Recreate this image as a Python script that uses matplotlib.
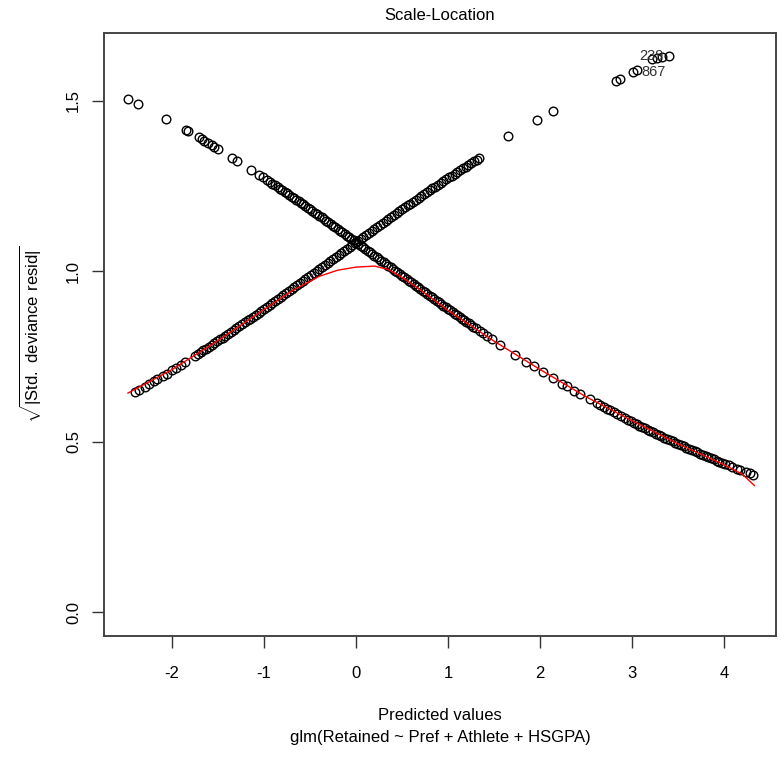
import matplotlib
matplotlib.use('Agg')
import matplotlib.pyplot as plt

plt.rcParams['font.family'] = ['Liberation Sans', 'DejaVu Sans']
plt.rcParams['mathtext.fontset'] = 'custom'
plt.rcParams['mathtext.rm'] = 'Liberation Sans'

# branch of cases with Retained = 1 (falling curve)
fitA = [-2.48, -2.37, -2.07, -1.85, -1.83, -1.71, -1.68, -1.65, -1.61, -1.57,
        -1.54, -1.50, -1.35, -1.29, -1.14, -1.05, -1.01, -0.97, -0.94, -0.91,
        -0.88, -0.85,
        -0.825, -0.800, -0.775, -0.750, -0.725, -0.700, -0.675, -0.650, -0.625, -0.600,
        -0.575, -0.550, -0.525, -0.500, -0.475, -0.450, -0.425, -0.400, -0.375, -0.350,
        -0.325, -0.300, -0.275, -0.250, -0.225, -0.200, -0.175, -0.150, -0.125, -0.100,
        -0.075, -0.050, -0.025, 0.000, 0.025, 0.050, 0.075, 0.100, 0.125, 0.150,
        0.175, 0.200, 0.225, 0.250, 0.275, 0.300, 0.325, 0.350, 0.375, 0.400,
        0.425, 0.450, 0.475, 0.500, 0.525, 0.550, 0.575, 0.600, 0.625, 0.650,
        0.675, 0.700, 0.725, 0.750, 0.775, 0.800, 0.825, 0.850, 0.875, 0.900,
        0.925, 0.950, 0.975, 1.000, 1.025, 1.050, 1.075, 1.100, 1.125, 1.150,
        1.175, 1.200, 1.225, 1.250, 1.275, 1.300,
        1.35, 1.38, 1.42, 1.48, 1.57, 1.73, 1.85, 1.93, 2.03, 2.14,
        2.24, 2.29, 2.37, 2.43, 2.54, 2.62, 2.65, 2.69, 2.73, 2.76,
        2.80, 2.84, 2.88, 2.92,
        2.96, 2.99, 3.02, 3.05, 3.08, 3.11, 3.14, 3.17, 3.20, 3.23,
        3.26, 3.29, 3.32, 3.35, 3.38, 3.41, 3.44, 3.47, 3.50, 3.53,
        3.56, 3.59, 3.62, 3.65, 3.68, 3.71, 3.74, 3.77, 3.80, 3.83,
        3.86, 3.89, 3.92, 3.95, 3.98, 4.01, 4.05, 4.09, 4.14, 4.17,
        4.24, 4.28, 4.32]
residA = [1.504, 1.489, 1.447, 1.414, 1.411, 1.392, 1.387, 1.382, 1.376, 1.370,
          1.365, 1.358, 1.333, 1.323, 1.298, 1.282, 1.275, 1.268, 1.262, 1.257,
          1.252, 1.246,
          1.2417, 1.2371, 1.2326, 1.2280, 1.2234, 1.2188, 1.2142, 1.2095, 1.2049, 1.2002,
          1.1955, 1.1908, 1.1861, 1.1814, 1.1767, 1.1719, 1.1672, 1.1624, 1.1577, 1.1529,
          1.1481, 1.1433, 1.1385, 1.1337, 1.1289, 1.1240, 1.1192, 1.1143, 1.1095, 1.1046,
          1.0998, 1.0949, 1.0900, 1.0851, 1.0802, 1.0753, 1.0704, 1.0655, 1.0606, 1.0557,
          1.0508, 1.0458, 1.0409, 1.0360, 1.0311, 1.0262, 1.0213, 1.0163, 1.0114, 1.0064,
          1.0015, 0.9966, 0.9917, 0.9868, 0.9819, 0.9770, 0.9721, 0.9672, 0.9623, 0.9574,
          0.9525, 0.9476, 0.9428, 0.9379, 0.9331, 0.9282, 0.9234, 0.9186, 0.9138, 0.9089,
          0.9041, 0.8993, 0.8945, 0.8897, 0.8850, 0.8802, 0.8755, 0.8707, 0.8660, 0.8613,
          0.8566, 0.8519, 0.8472, 0.8425, 0.8379, 0.8332,
          0.824, 0.8185, 0.8112, 0.8003, 0.7841, 0.7559, 0.7352, 0.7216, 0.7049, 0.6868,
          0.6707, 0.6628, 0.6502, 0.6409, 0.6243, 0.6125, 0.6080, 0.6021, 0.5963, 0.5919,
          0.5861, 0.5805, 0.5749, 0.5694,
          0.5639, 0.5598, 0.5557, 0.5517, 0.5477, 0.5437, 0.5397, 0.5358, 0.5318, 0.5279,
          0.5241, 0.5202, 0.5164, 0.5126, 0.5088, 0.5051, 0.5014, 0.4977, 0.4940, 0.4904,
          0.4867, 0.4831, 0.4796, 0.4760, 0.4725, 0.4691, 0.4656, 0.4622, 0.4587, 0.4553,
          0.4520, 0.4486, 0.4453, 0.4420, 0.4388, 0.4355, 0.4312, 0.4270, 0.4217, 0.4186,
          0.4114, 0.4073, 0.4032]

# branch of cases with Retained = 0 (rising curve)
fitB = [-2.40, -2.36, -2.30, -2.25, -2.20, -2.16, -2.10, -2.06, -2.00, -1.96,
        -1.90, -1.86,
        -1.75, -1.72, -1.69, -1.66, -1.63, -1.60, -1.57, -1.54, -1.51, -1.48,
        -1.45, -1.42, -1.39, -1.36, -1.33, -1.30, -1.27, -1.24, -1.21, -1.18,
        -1.15, -1.12, -1.09, -1.06, -1.03, -1.00, -0.97, -0.94, -0.91, -0.88,
        -0.85, -0.82, -0.79, -0.76, -0.73, -0.70, -0.67, -0.64, -0.61, -0.58,
        -0.55, -0.52, -0.49, -0.46, -0.43, -0.40, -0.37, -0.34, -0.31, -0.28,
        -0.25, -0.22, -0.19, -0.16, -0.13, -0.10, -0.07, -0.04, -0.01, 0.02,
        0.05, 0.08, 0.11, 0.14, 0.17, 0.20, 0.23, 0.26, 0.29, 0.32,
        0.35, 0.38, 0.41, 0.44, 0.47, 0.50, 0.53, 0.56, 0.59, 0.62,
        0.65, 0.68, 0.71, 0.74, 0.77, 0.80, 0.83, 0.86, 0.89, 0.92,
        0.95, 0.98, 1.01, 1.04, 1.07, 1.10, 1.13, 1.16, 1.19, 1.22,
        1.25, 1.28, 1.31, 1.34,
        1.65, 1.97, 2.14, 2.83, 2.87, 3.01, 3.05, 3.22, 3.27, 3.33, 3.40]
residB = [0.6455, 0.6517, 0.6612, 0.6691, 0.6771, 0.6836, 0.6933, 0.6999, 0.7098, 0.7165,
          0.7266, 0.7335,
          0.7524, 0.7576, 0.7629, 0.7681, 0.7735, 0.7788, 0.7841, 0.7895, 0.7949, 0.8003,
          0.8057, 0.8112, 0.8166, 0.8221, 0.8277, 0.8332, 0.8388, 0.8444, 0.8500, 0.8557,
          0.8613, 0.8669, 0.8726, 0.8783, 0.8840, 0.8897, 0.8955, 0.9012, 0.9070, 0.9128,
          0.9186, 0.9243, 0.9301, 0.9360, 0.9418, 0.9476, 0.9535, 0.9593, 0.9652, 0.9711,
          0.9770, 0.9829, 0.9888, 0.9946, 1.0005, 1.0064, 1.0124, 1.0183, 1.0242, 1.0301,
          1.0360, 1.0419, 1.0478, 1.0537, 1.0596, 1.0655, 1.0714, 1.0772, 1.0831, 1.0890,
          1.0949, 1.1007, 1.1066, 1.1124, 1.1182, 1.1240, 1.1298, 1.1356, 1.1414, 1.1471,
          1.1529, 1.1586, 1.1643, 1.1700, 1.1757, 1.1814, 1.1870, 1.1927, 1.1983, 1.2039,
          1.2095, 1.2151, 1.2206, 1.2261, 1.2316, 1.2371, 1.2426, 1.2480, 1.2534, 1.2588,
          1.2642, 1.2696, 1.2749, 1.2802, 1.2854, 1.2906, 1.2958, 1.3010, 1.3063, 1.3114,
          1.3165, 1.3216, 1.3267, 1.3317,
          1.397, 1.444, 1.470, 1.556, 1.562, 1.583, 1.589, 1.622, 1.626, 1.628, 1.631]

# smoother (red line)
smoothX = [-2.48, -2.0, -1.5, -1.0, -0.7, -0.4, -0.2, 0.0, 0.2, 0.35,
           0.5, 0.7, 1.0, 1.5, 2.0, 2.5, 3.0, 3.5, 4.0, 4.2, 4.33]
smoothY = [0.643, 0.712, 0.797, 0.888, 0.942, 0.985, 1.003, 1.012, 1.015, 1.005,
           0.982, 0.945, 0.885, 0.795, 0.712, 0.632, 0.562, 0.494, 0.433, 0.405, 0.372]

# outlier labels
labelText = ['239', '867']
labelX = [3.08, 3.10]
labelY = [1.630, 1.585]

fig = plt.figure(figsize=(7.81, 7.66), dpi=100)
ax = fig.add_axes([0.1332, 0.1697, 0.9936 - 0.1332, 0.9569 - 0.1697])

ax.plot(fitA, residA, 'o', mfc='none', mec='black', ms=6.2, mew=1.0)
ax.plot(fitB, residB, 'o', mfc='none', mec='black', ms=6.2, mew=1.0)
ax.plot(smoothX, smoothY, color='red', lw=1)

for t, x, y in zip(labelText, labelX, labelY):
    ax.text(x, y, t, fontsize=10.5, color='#333333', ha='left', va='center')

ax.set_xlim(-2.74, 4.565)
ax.set_ylim(-0.069, 1.698)
ax.set_xticks([-2, -1, 0, 1, 2, 3, 4])
ax.set_yticks([0.0, 0.5, 1.0, 1.5])
ax.set_xticklabels(['-2', '-1', '0', '1', '2', '3', '4'])
ax.set_yticklabels(['0.0', '0.5', '1.0', '1.5'], rotation=90, va='center')
ax.tick_params(axis='both', direction='out', length=8.5, width=1, labelsize=12,
               color='#333333')
ax.tick_params(axis='x', pad=13)
ax.tick_params(axis='y', pad=8)
for s in ax.spines.values():
    s.set_color('#444444')
    s.set_linewidth(1.4)

fig.text(0.5634, 0.980, 'Scale-Location', ha='center', va='center', fontsize=12)
fig.text(0.5634, 0.0653, 'Predicted values', ha='center', va='center', fontsize=12)
fig.text(0.5634, 0.0366, 'glm(Retained ~ Pref + Athlete + HSGPA)', ha='center',
         va='center', fontsize=12)
fig.text(0.040, 0.5637, r'$\sqrt{|\mathrm{Std.\ deviance\ resid}|}$', rotation=90,
         ha='center', va='center', fontsize=12)

fig.savefig('out.png', dpi=100)
